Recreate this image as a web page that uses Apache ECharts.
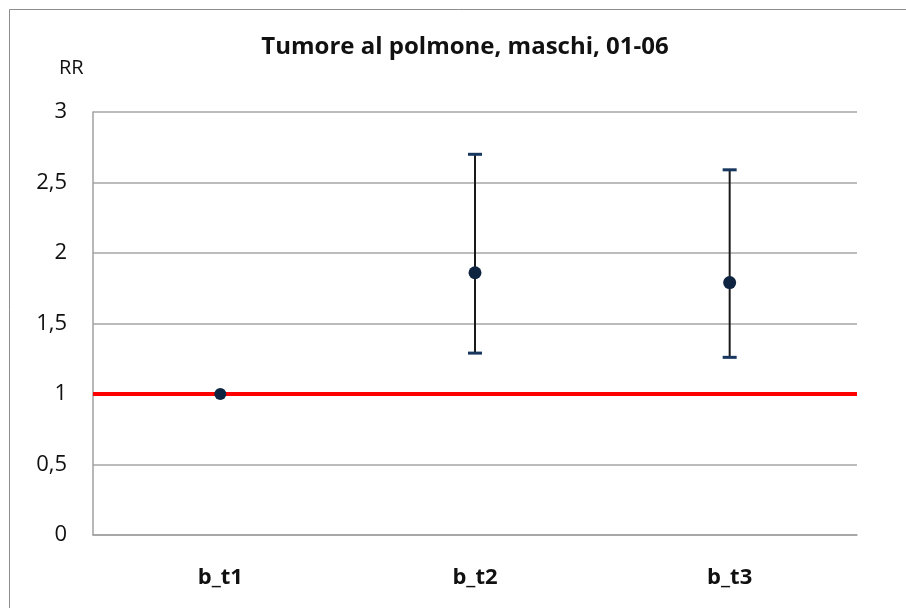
<!DOCTYPE html>
<html><head><meta charset="utf-8">
<script src="https://cdn.jsdelivr.net/npm/echarts@6/dist/echarts.min.js"></script>
<style>html,body{margin:0;padding:0;background:#fff;overflow:hidden}#c{width:906px;height:608px}</style>
</head><body><div id="c"></div>
<script>
const categories = ['b_t1', 'b_t2', 'b_t3'];
const rrValues = [1, 1.86, 1.79];
const lowerCI = [1, 1.29, 1.26];
const upperCI = [1, 2.70, 2.59];
const referenceValue = 1;
const titleText = 'Tumore al polmone, maschi, 01-06';
const yAxisName = 'RR';

const chart = echarts.init(document.getElementById('c'), null, {renderer: 'canvas'});
const errData = categories.map((c, i) => [i, lowerCI[i], upperCI[i]]);
chart.setOption({
  animation: false,
  backgroundColor: '#fff',
  graphic: [
    {type: 'polyline', shape: {points: [[9.5, 700], [9.5, 9.5], [1000, 9.5]]}, style: {fill: 'none', stroke: '#8c8c8c', lineWidth: 1}, z: -10},
    {type: 'text', x: 465, y: 47, style: {text: titleText, font: 'bold 24px "Open Sans"', fill: '#111', textAlign: 'center', textVerticalAlign: 'middle'}},
    {type: 'text', x: 59, y: 68, style: {text: yAxisName, font: '20px "Open Sans"', fill: '#111', textVerticalAlign: 'middle'}}
  ],
  grid: {left: 93, right: 49, top: 112, bottom: 73},
  xAxis: {
    type: 'category', data: categories, boundaryGap: true,
    axisLine: {lineStyle: {color: '#a0a0a0', width: 1.5}},
    axisTick: {show: false},
    axisLabel: {margin: 32, fontFamily: 'Open Sans', fontWeight: 'bold', fontSize: 22, color: '#111'}
  },
  yAxis: {
    type: 'value', min: 0, max: 3, interval: 0.5,
    axisLine: {show: true, lineStyle: {color: '#a0a0a0', width: 1.5}},
    axisTick: {show: false},
    splitLine: {lineStyle: {color: '#a6a6a6', width: 1.5}},
    axisLabel: {
      margin: 26, fontFamily: 'Open Sans', fontSize: 22, color: '#111',
      formatter: v => String(v).replace('.', ',')
    }
  },
  series: [
    {
      type: 'custom', z: 2,
      data: errData,
      renderItem: function (params, api) {
        const x = api.coord([api.value(0), api.value(1)])[0];
        const yLo = api.coord([api.value(0), api.value(1)])[1];
        const yHi = api.coord([api.value(0), api.value(2)])[1];
        if (Math.abs(yHi - yLo) < 1) return {type: 'group', children: []};
        const hw = 7;
        return {type: 'group', children: [
          {type: 'line', shape: {x1: x, y1: yLo, x2: x, y2: yHi}, style: {stroke: '#1a1a1a', lineWidth: 2}},
          {type: 'line', shape: {x1: x - hw, y1: yLo, x2: x + hw, y2: yLo}, style: {stroke: '#17375e', lineWidth: 3}},
          {type: 'line', shape: {x1: x - hw, y1: yHi, x2: x + hw, y2: yHi}, style: {stroke: '#17375e', lineWidth: 3}}
        ]};
      },
      markLine: {
        silent: true, symbol: 'none', label: {show: false},
        lineStyle: {color: '#ff0000', width: 4, type: 'solid'},
        data: [{yAxis: referenceValue}]
      }
    },
    {
      type: 'scatter', z: 5, data: rrValues, symbol: 'circle',
      symbolSize: (v, p) => p.dataIndex === 0 ? 12 : 13,
      itemStyle: {color: '#0f2440', opacity: 1}
    }
  ]
});
</script></body></html>
